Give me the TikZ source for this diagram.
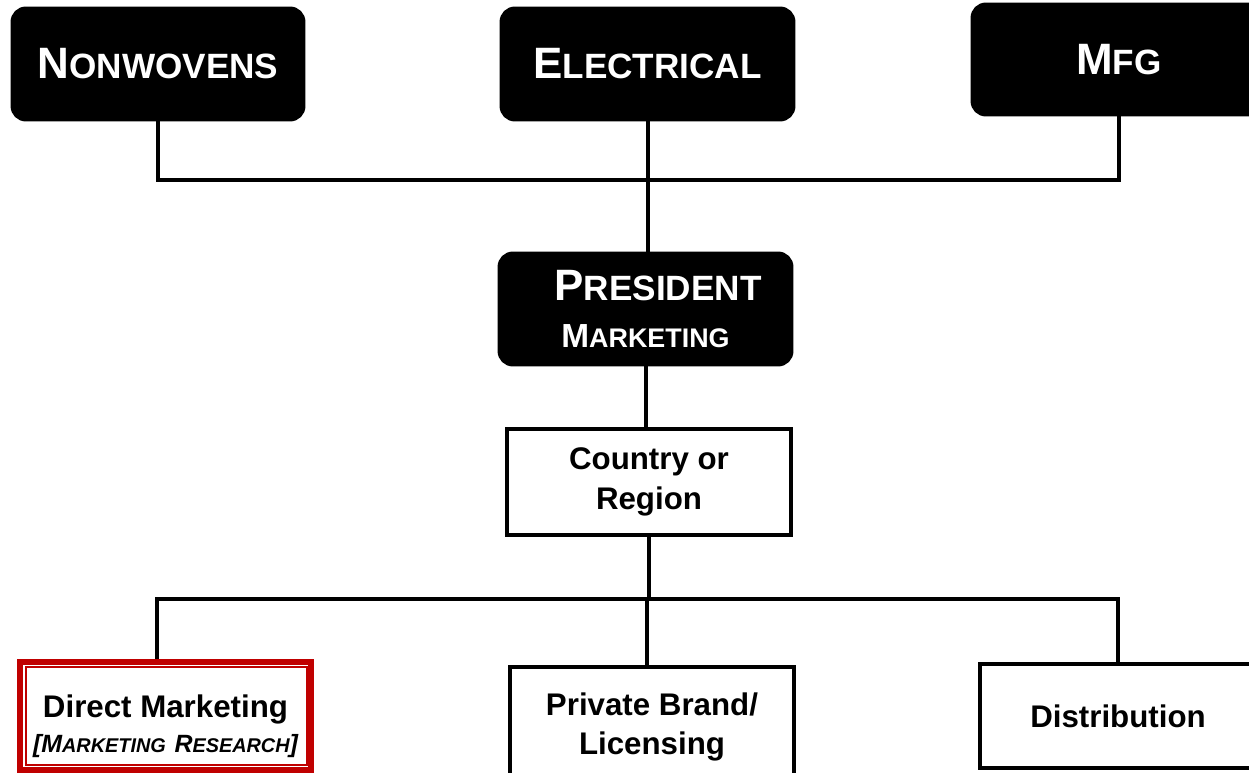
\documentclass[tikz,border=0pt]{standalone}
\usepackage{fontspec}
\setmainfont{Liberation Sans}
\usetikzlibrary{calc}

\definecolor{boxred}{RGB}{192,0,0}
% fake small caps: big first letter, smaller rest
\newcommand{\bigsc}[2]{{\fontsize{25}{30}\selectfont #1}{\fontsize{20}{24}\selectfont #2}}
\newcommand{\midsc}[2]{{\fontsize{19}{23}\selectfont #1}{\fontsize{15.3}{18}\selectfont #2}}
\newcommand{\lowsc}[2]{{\fontsize{14.2}{17}\selectfont #1}{\fontsize{11.3}{14}\selectfont #2}}

\begin{document}
\begin{tikzpicture}[x=0.02cm,y=-0.02cm,
    blackbox/.style={draw, fill=black, text=white, rounded corners=0.28cm,
        line width=0.06cm, font=\bfseries, align=center},
    whitebox/.style={draw, fill=white, line width=0.08cm, align=center,
        font=\bfseries\fontsize{17.8}{22.7}\selectfont},
    link/.style={line width=0.08cm}]

    \useasboundingbox (0,0) rectangle (1249,773);

    % Top row
    \node[blackbox, minimum width=5.84cm, minimum height=2.24cm] (nonw) at (158,64) {\bigsc{N}{ONWOVENS}};
    \node[blackbox, minimum width=5.86cm, minimum height=2.24cm] (elec) at (647.5,64) {\bigsc{E}{LECTRICAL}};
    \node[blackbox, minimum width=5.88cm, minimum height=2.22cm] (mfg) at (1119,59.5) {\bigsc{M}{FG}};

    % President
    \node[blackbox, font=\bfseries\fontsize{25}{26.5}\selectfont, minimum width=5.86cm, minimum height=2.24cm] (pres) at (645.5,309)
        {\hspace*{0.5cm}\bigsc{P}{RESIDENT}\\\midsc{M}{ARKETING}};

    % Country
    \node[whitebox, minimum width=5.68cm, minimum height=2.12cm] (country) at (649,482) {Country or\\Region};

    % Bottom row
    \node[whitebox, draw=boxred, line width=0.12cm, minimum width=5.82cm, minimum height=2.16cm] (direct) at (165.5,716)
        {\rule{0pt}{0.85cm}Direct Marketing\\[-0.1cm]{\itshape\lowsc{[M}{ARKETING} \lowsc{R}{ESEARCH}\lowsc{]}{}}};
    \draw[boxred, line width=0.03cm] ([shift={(9,8)}]direct.north west) rectangle ([shift={(-7,-8)}]direct.south east);
    \node[whitebox, minimum width=5.68cm, minimum height=2.4cm] (priv) at (652,727) {Private Brand/\\Licensing};
    \node[whitebox, minimum width=5.52cm, minimum height=2.08cm] (dist) at (1118,716) {Distribution};

    % Connectors
    \coordinate (topbus) at (649,180);
    \coordinate (lowbus) at (647,599);
    \draw[link] (nonw.south) |- (topbus) -| (mfg.south);
    \draw[link] (elec.south) -- (elec.south |- pres.north);
    \draw[link] (pres.south) -- (pres.south |- country.north);
    \draw[link] (country.south) -- (country.south |- lowbus);
    \draw[link] ([xshift=-0.18cm]direct.north) |- (lowbus) -| (dist.north);
    \draw[link] (lowbus) -- (lowbus |- priv.north);
\end{tikzpicture}
\end{document}
